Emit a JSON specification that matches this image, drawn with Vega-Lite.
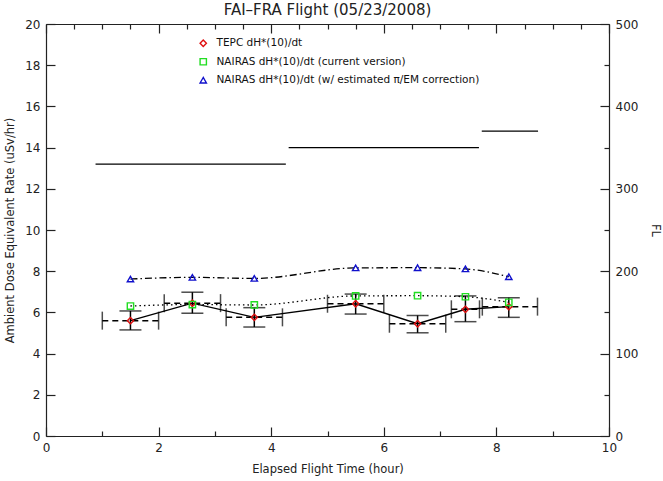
{
  "$schema": "https://vega.github.io/schema/vega-lite/v6.json",
  "width": 563,
  "height": 412,
  "autosize": "none",
  "padding": {"left": 46, "top": 24, "right": 54, "bottom": 45},
  "background": "white",
  "config": {
    "view": {"stroke": null},
    "font": "DejaVu Sans",
    "axis": {
      "grid": false,
      "domainColor": "#222",
      "tickColor": "#222",
      "labelColor": "#222",
      "titleColor": "#222",
      "labelFontSize": 12,
      "titleFontSize": 11.5,
      "titleFontWeight": "normal",
      "domainWidth": 1.2,
      "tickWidth": 1.2
    }
  },
  "title": {"text": "FAI–FRA Flight (05/23/2008)", "fontSize": 15, "fontWeight": "normal", "offset": 0, "color": "#222"},
  "datasets": {
    "pts": [
      {"series": "TEPC dH*(10)/dt", "time": 1.5, "rate": 5.6, "lo": 5.15, "hi": 6.07, "t0": 1.0, "t1": 2.0},
      {"series": "TEPC dH*(10)/dt", "time": 2.6, "rate": 6.45, "lo": 5.96, "hi": 6.98, "t0": 2.1, "t1": 3.1},
      {"series": "TEPC dH*(10)/dt", "time": 3.7, "rate": 5.76, "lo": 5.29, "hi": 6.23, "t0": 3.2, "t1": 4.2},
      {"series": "TEPC dH*(10)/dt", "time": 5.5, "rate": 6.42, "lo": 5.92, "hi": 6.89, "t0": 5.0, "t1": 6.0},
      {"series": "TEPC dH*(10)/dt", "time": 6.6, "rate": 5.45, "lo": 5.01, "hi": 5.85, "t0": 6.1, "t1": 7.1},
      {"series": "TEPC dH*(10)/dt", "time": 7.45, "rate": 6.15, "lo": 5.55, "hi": 6.8, "t0": 7.2, "t1": 7.7},
      {"series": "TEPC dH*(10)/dt", "time": 8.22, "rate": 6.28, "lo": 5.76, "hi": 6.71, "t0": 7.75, "t1": 8.73},
      {"series": "NAIRAS dH*(10)/dt (current version)", "time": 1.5, "rate": 6.31},
      {"series": "NAIRAS dH*(10)/dt (current version)", "time": 2.6, "rate": 6.38},
      {"series": "NAIRAS dH*(10)/dt (current version)", "time": 3.7, "rate": 6.36},
      {"series": "NAIRAS dH*(10)/dt (current version)", "time": 5.5, "rate": 6.8},
      {"series": "NAIRAS dH*(10)/dt (current version)", "time": 6.6, "rate": 6.81},
      {"series": "NAIRAS dH*(10)/dt (current version)", "time": 7.45, "rate": 6.76},
      {"series": "NAIRAS dH*(10)/dt (current version)", "time": 8.22, "rate": 6.49},
      {"series": "NAIRAS dH*(10)/dt (w/ estimated π/EM correction)", "time": 1.5, "rate": 7.62},
      {"series": "NAIRAS dH*(10)/dt (w/ estimated π/EM correction)", "time": 2.6, "rate": 7.7},
      {"series": "NAIRAS dH*(10)/dt (w/ estimated π/EM correction)", "time": 3.7, "rate": 7.65},
      {"series": "NAIRAS dH*(10)/dt (w/ estimated π/EM correction)", "time": 5.5, "rate": 8.16},
      {"series": "NAIRAS dH*(10)/dt (w/ estimated π/EM correction)", "time": 6.6, "rate": 8.17},
      {"series": "NAIRAS dH*(10)/dt (w/ estimated π/EM correction)", "time": 7.45, "rate": 8.11},
      {"series": "NAIRAS dH*(10)/dt (w/ estimated π/EM correction)", "time": 8.22, "rate": 7.73}
    ],
    "fl": [
      {"t0": 0.88, "t1": 4.26, "fl": 330},
      {"t0": 4.31, "t1": 7.69, "fl": 350},
      {"t0": 7.74, "t1": 8.74, "fl": 370}
    ]
  },
  "layer": [
    {
      "data": {"name": "pts"},
      "layer": [
        {
          "transform": [{"filter": "datum.t0 != null"}],
          "mark": {"type": "rule", "color": "black", "strokeWidth": 1.5, "strokeDash": [6, 4]},
          "encoding": {
            "x": {"field": "t0", "type": "quantitative", "title": "Elapsed Flight Time (hour)"},
            "x2": {"field": "t1"},
            "y": {"field": "rate", "type": "quantitative", "title": "Ambient Dose Equivalent Rate (uSv/hr)"}
          }
        },
        {
          "transform": [{"filter": "datum.t0 != null"}],
          "mark": {"type": "tick", "orient": "vertical", "color": "black", "thickness": 1.5, "size": 18},
          "encoding": {
            "x": {"field": "t0", "type": "quantitative", "title": "Elapsed Flight Time (hour)"},
            "y": {"field": "rate", "type": "quantitative", "title": "Ambient Dose Equivalent Rate (uSv/hr)"}
          }
        },
        {
          "transform": [{"filter": "datum.t0 != null"}],
          "mark": {"type": "tick", "orient": "vertical", "color": "black", "thickness": 1.5, "size": 18},
          "encoding": {
            "x": {"field": "t1", "type": "quantitative", "title": "Elapsed Flight Time (hour)"},
            "y": {"field": "rate", "type": "quantitative", "title": "Ambient Dose Equivalent Rate (uSv/hr)"}
          }
        },
        {
          "transform": [{"filter": "datum.lo != null"}],
          "mark": {"type": "rule", "color": "black", "strokeWidth": 1.5},
          "encoding": {
            "x": {"field": "time", "type": "quantitative", "title": "Elapsed Flight Time (hour)"},
            "y": {"field": "lo", "type": "quantitative", "title": "Ambient Dose Equivalent Rate (uSv/hr)"},
            "y2": {"field": "hi"}
          }
        },
        {
          "transform": [{"filter": "datum.lo != null"}],
          "mark": {"type": "tick", "orient": "horizontal", "color": "black", "thickness": 1.5, "size": 22},
          "encoding": {
            "x": {"field": "time", "type": "quantitative", "title": "Elapsed Flight Time (hour)"},
            "y": {"field": "lo", "type": "quantitative", "title": "Ambient Dose Equivalent Rate (uSv/hr)"}
          }
        },
        {
          "transform": [{"filter": "datum.lo != null"}],
          "mark": {"type": "tick", "orient": "horizontal", "color": "black", "thickness": 1.5, "size": 22},
          "encoding": {
            "x": {"field": "time", "type": "quantitative", "title": "Elapsed Flight Time (hour)"},
            "y": {"field": "hi", "type": "quantitative", "title": "Ambient Dose Equivalent Rate (uSv/hr)"}
          }
        },
        {
          "transform": [{"filter": "datum.lo != null"}],
          "mark": {"type": "line", "color": "black", "strokeWidth": 1.4},
          "encoding": {
            "x": {"field": "time", "type": "quantitative", "title": "Elapsed Flight Time (hour)"},
            "y": {"field": "rate", "type": "quantitative", "title": "Ambient Dose Equivalent Rate (uSv/hr)"}
          }
        },
        {
          "transform": [{"filter": "datum.lo == null"}],
          "mark": {"type": "line", "color": "black", "strokeWidth": 1.3, "interpolate": "monotone"},
          "encoding": {
            "x": {"field": "time", "type": "quantitative", "title": "Elapsed Flight Time (hour)"},
            "y": {"field": "rate", "type": "quantitative", "title": "Ambient Dose Equivalent Rate (uSv/hr)"},
            "strokeDash": {
              "field": "series", "type": "nominal", "legend": null,
              "scale": {
                "domain": ["NAIRAS dH*(10)/dt (current version)", "NAIRAS dH*(10)/dt (w/ estimated π/EM correction)"],
                "range": [[1.5, 3], [7, 3, 1.5, 3]]
              }
            }
          }
        },
        {
          "mark": {"type": "point", "filled": false, "strokeWidth": 1.4, "size": 40, "opacity": 1},
          "encoding": {
            "x": {
              "field": "time", "type": "quantitative", "title": "Elapsed Flight Time (hour)",
              "scale": {"domain": [0, 10], "nice": false},
              "axis": {
                "orient": "bottom",
                "values": [0, 0.5, 1, 1.5, 2, 2.5, 3, 3.5, 4, 4.5, 5, 5.5, 6, 6.5, 7, 7.5, 8, 8.5, 9, 9.5, 10],
                "format": "d",
                "labelExpr": "datum.value % 2 === 0 ? datum.label : ''",
                "tickSize": {"condition": {"test": "datum.value % 2 === 0", "value": -9}, "value": -5},
                "labelPadding": 15,
                "titlePadding": 10,
                "labelFlush": false
              }
            },
            "y": {
              "field": "rate", "type": "quantitative", "title": "Ambient Dose Equivalent Rate (uSv/hr)",
              "scale": {"domain": [0, 20], "nice": false},
              "axis": {
                "orient": "left",
                "values": [0, 1, 2, 3, 4, 5, 6, 7, 8, 9, 10, 11, 12, 13, 14, 15, 16, 17, 18, 19, 20],
                "labelExpr": "datum.value % 2 === 0 ? datum.label : ''",
                "tickSize": {"condition": {"test": "datum.value % 2 === 0", "value": -9}, "value": -5},
                "labelPadding": 15,
                "titlePadding": 9,
                "labelFlush": false
              }
            },
            "color": {
              "field": "series", "type": "nominal",
              "scale": {
                "domain": ["TEPC dH*(10)/dt", "NAIRAS dH*(10)/dt (current version)", "NAIRAS dH*(10)/dt (w/ estimated π/EM correction)"],
                "range": ["#e01010", "#22dd22", "#1010cc"]
              },
              "legend": {
                "orient": "none", "legendX": 152, "legendY": 14, "title": null,
                "labelFontSize": 10.5, "labelColor": "#111", "symbolStrokeWidth": 1.4, "symbolSize": 40,
                "rowPadding": 5.5, "labelOffset": 8, "labelLimit": 500, "symbolFillColor": "transparent"
              }
            },
            "shape": {
              "field": "series", "type": "nominal",
              "scale": {
                "domain": ["TEPC dH*(10)/dt", "NAIRAS dH*(10)/dt (current version)", "NAIRAS dH*(10)/dt (w/ estimated π/EM correction)"],
                "range": ["diamond", "square", "triangle-up"]
              },
              "legend": {
                "orient": "none", "legendX": 152, "legendY": 14, "title": null,
                "labelFontSize": 10.5, "labelColor": "#111", "symbolStrokeWidth": 1.4, "symbolSize": 40,
                "rowPadding": 5.5, "labelOffset": 8, "labelLimit": 500, "symbolFillColor": "transparent"
              }
            }
          }
        }
      ]
    },
    {
      "data": {"name": "fl"},
      "mark": {"type": "rule", "color": "black", "strokeWidth": 1.4},
      "encoding": {
        "x": {
          "field": "t0", "type": "quantitative", "title": null,
          "scale": {"domain": [0, 10], "nice": false},
          "axis": {
            "orient": "top",
            "values": [0, 0.5, 1, 1.5, 2, 2.5, 3, 3.5, 4, 4.5, 5, 5.5, 6, 6.5, 7, 7.5, 8, 8.5, 9, 9.5, 10],
            "labels": false,
            "tickSize": {"condition": {"test": "datum.value % 2 === 0", "value": -9}, "value": -5}
          }
        },
        "x2": {"field": "t1"},
        "y": {
          "field": "fl", "type": "quantitative", "title": "FL",
          "scale": {"domain": [0, 500], "nice": false},
          "axis": {
            "orient": "right",
            "values": [0, 50, 100, 150, 200, 250, 300, 350, 400, 450, 500],
            "labelExpr": "datum.value % 100 === 0 ? datum.label : ''",
            "tickSize": {"condition": {"test": "datum.value % 100 === 0", "value": -9}, "value": -5},
            "labelPadding": 15,
            "titlePadding": 12,
            "labelFlush": false
          }
        }
      }
    }
  ],
  "resolve": {"scale": {"y": "independent"}}
}
